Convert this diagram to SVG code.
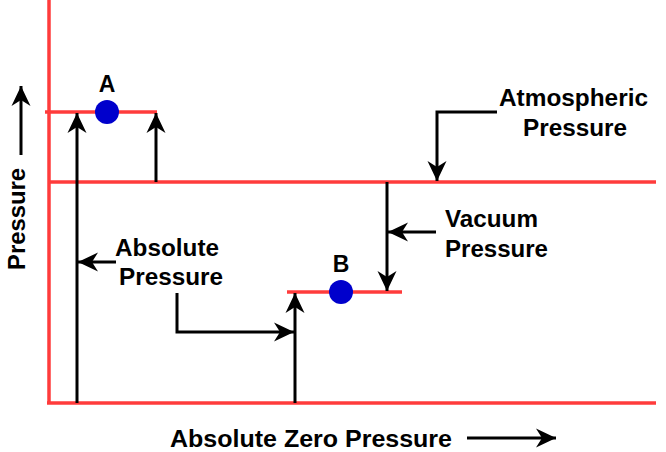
<svg xmlns="http://www.w3.org/2000/svg" width="666" height="452" viewBox="0 0 666 452">
<style>
.red{stroke:#ff3b3b;stroke-width:3.5;fill:none}
.ar{stroke:#000;stroke-width:3;fill:none;marker-end:url(#ah)}
.lbl{font-family:"Liberation Sans",Arial,sans-serif;font-weight:bold;font-size:23px;fill:#000}
.dot{fill:#0000cc}
</style>
<defs>
<marker id="ah" markerUnits="userSpaceOnUse" markerWidth="24" markerHeight="24" viewBox="-22 -12 24 24" refX="0" refY="0" orient="auto">
<path d="M0,0 L-20,-9.5 L-14,0 L-20,9.5 Z" fill="#000"/>
</marker>
</defs>
<g id="lines">
<line class="red" x1="49" y1="0" x2="49" y2="404"/>
<line class="red" x1="45" y1="112" x2="157" y2="112"/>
<line class="red" x1="49" y1="182" x2="656" y2="182"/>
<line class="red" x1="47" y1="403" x2="656" y2="403"/>
<line class="red" x1="287" y1="292" x2="402" y2="292"/>
</g>
<g id="pointA">
<circle class="dot" cx="107" cy="112" r="12"/>
<text class="lbl" x="107" y="92" text-anchor="middle">A</text>
</g>
<g id="pointB">
<circle class="dot" cx="341" cy="292" r="12"/>
<text class="lbl" x="341" y="272" text-anchor="middle">B</text>
</g>
<g id="connectors">
<line class="ar" x1="77" y1="403" x2="77" y2="113"/>
<line class="ar" x1="156" y1="182" x2="156" y2="113"/>
<line class="ar" x1="387" y1="182" x2="387" y2="291"/>
<line class="ar" x1="295" y1="403" x2="295" y2="293"/>
<line class="ar" x1="436" y1="232" x2="388" y2="232"/>
<line class="ar" x1="116" y1="262" x2="78" y2="262"/>
<polyline class="ar" points="177,293 177,332 294,332"/>
<polyline class="ar" points="497,112 437,112 437,181"/>
<line class="ar" x1="21" y1="155" x2="21" y2="86"/>
<line class="ar" x1="467" y1="438" x2="556" y2="438"/>
</g>
<g id="labels">
<text class="lbl" x="573.5" y="106" text-anchor="middle" textLength="149" lengthAdjust="spacingAndGlyphs">Atmospheric</text>
<text class="lbl" x="575" y="136" text-anchor="middle" textLength="104" lengthAdjust="spacingAndGlyphs">Pressure</text>
<text class="lbl" x="445" y="227" textLength="93" lengthAdjust="spacingAndGlyphs">Vacuum</text>
<text class="lbl" x="445" y="257" textLength="103" lengthAdjust="spacingAndGlyphs">Pressure</text>
<text class="lbl" x="115" y="256" textLength="104" lengthAdjust="spacingAndGlyphs">Absolute</text>
<text class="lbl" x="119" y="285" textLength="104" lengthAdjust="spacingAndGlyphs">Pressure</text>
<text class="lbl" transform="translate(25,219) rotate(-90)" text-anchor="middle" textLength="102" lengthAdjust="spacingAndGlyphs">Pressure</text>
<text class="lbl" x="170" y="447" textLength="282" lengthAdjust="spacingAndGlyphs">Absolute Zero Pressure</text>
</g>
</svg>
